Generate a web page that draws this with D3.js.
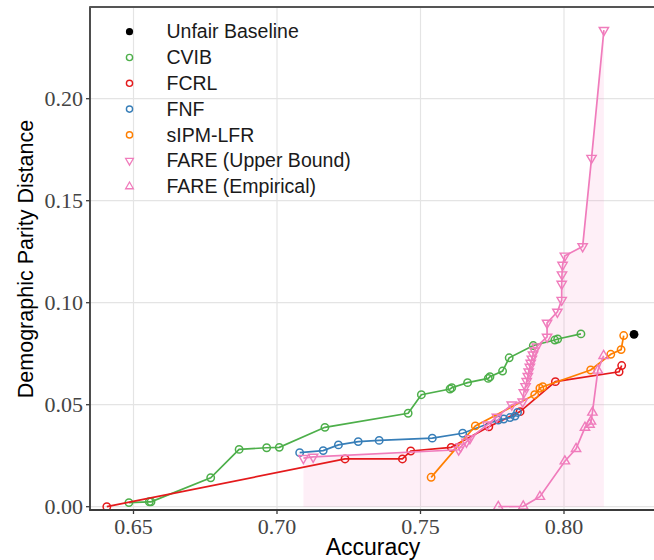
<!DOCTYPE html>
<html>
<head>
<meta charset="utf-8">
<script src="https://cdn.jsdelivr.net/npm/d3@7"></script>
<style>
  html, body { margin: 0; padding: 0; background: #fff; }
  svg { display: block; }
</style>
</head>
<body>
<svg id="chart" width="654" height="560"></svg>
<script>
// ---------------- data ----------------
const xTicks = [0.65, 0.70, 0.75, 0.80];
const yTicks = [0.00, 0.05, 0.10, 0.15, 0.20];
const xTickLabels = ["0.65", "0.70", "0.75", "0.80"];
const yTickLabels = ["0.00", "0.05", "0.10", "0.15", "0.20"];

const legendNames = ["Unfair Baseline", "CVIB", "FCRL", "FNF", "sIPM-LFR", "FARE (Upper Bound)", "FARE (Empirical)"];

const baselineAcc = [0.8244];
const baselineDP  = [0.0845];

const cvibAcc = [0.6484, 0.6555, 0.6561, 0.6769, 0.6868, 0.6964, 0.7008, 0.7167, 0.7457, 0.7503, 0.7603, 0.7609, 0.7664, 0.7736, 0.7742, 0.7786, 0.7809, 0.7893, 0.7968, 0.7978, 0.8059];
const cvibDP  = [0.0020, 0.0024, 0.0024, 0.0142, 0.0281, 0.0289, 0.0291, 0.0389, 0.0458, 0.0549, 0.0577, 0.0583, 0.0608, 0.0629, 0.0637, 0.0665, 0.0730, 0.0790, 0.0817, 0.0822, 0.0847];

const fcrlAcc = [0.6407, 0.7237, 0.7437, 0.7466, 0.7607, 0.7738, 0.7847, 0.7970, 0.8192, 0.8201];
const fcrlDP  = [0.0000, 0.0234, 0.0234, 0.0273, 0.0291, 0.0392, 0.0466, 0.0613, 0.0661, 0.0692];

const fnfAcc = [0.7079, 0.7161, 0.7214, 0.7283, 0.7356, 0.7541, 0.7647, 0.7771, 0.7790, 0.7812, 0.7829, 0.7838];
const fnfDP  = [0.0265, 0.0275, 0.0303, 0.0319, 0.0325, 0.0336, 0.0360, 0.0425, 0.0430, 0.0437, 0.0444, 0.0462];

const sipmAcc = [0.7537, 0.7691, 0.7898, 0.7916, 0.7926, 0.8093, 0.8163, 0.8199, 0.8208];
const sipmDP  = [0.0144, 0.0396, 0.0549, 0.0581, 0.0588, 0.0670, 0.0747, 0.0770, 0.0839];

const fareUBAcc = [0.7092, 0.7126, 0.7633, 0.7640, 0.7660, 0.7672, 0.7733, 0.7766, 0.7818, 0.7856, 0.7860, 0.7866, 0.7870, 0.7874, 0.7877, 0.7881, 0.7884, 0.7888, 0.7892, 0.7897, 0.7905, 0.7941, 0.7941, 0.7977, 0.7992, 0.7992, 0.7993, 0.7995, 0.8003, 0.8065, 0.8096, 0.8139];
const fareUBDP  = [0.0238, 0.0244, 0.0279, 0.0294, 0.0318, 0.0335, 0.0402, 0.0440, 0.0500, 0.0515, 0.0560, 0.0590, 0.0615, 0.0640, 0.0662, 0.0685, 0.0705, 0.0725, 0.0745, 0.0765, 0.0785, 0.0832, 0.0901, 0.0955, 0.1013, 0.1092, 0.1138, 0.1185, 0.1230, 0.1276, 0.1709, 0.2336];

const fareEmpAcc = [0.7771, 0.7858, 0.7916, 0.8003, 0.8042, 0.8073, 0.8089, 0.8094, 0.8099, 0.8118, 0.8138];
const fareEmpDP  = [0.0000, 0.0002, 0.0049, 0.0223, 0.0284, 0.0388, 0.0403, 0.0418, 0.0462, 0.0668, 0.0740];

// ---------------- styling ----------------
const colCVIB = "#4DAF4A", colFCRL = "#E41A1C", colFNF = "#377EB8", colSIPM = "#FF7F00", colFARE = "#F07CBC";

const svg = d3.select("#chart");
const W = 654, H = 560;
const pLeft = 90, pTop = 7, pBottom = 510, pRight = 700;

const x = d3.scaleLinear().domain([0.65, 0.80]).range([133.5, 564]);
const y = d3.scaleLinear().domain([0.0, 0.20]).range([506.7, 98.7]);

const zip = (a, b) => a.map((v, i) => [v, b[i]]);

// clip
svg.append("defs").append("clipPath").attr("id", "clip")
  .append("rect").attr("x", pLeft).attr("y", pTop).attr("width", pRight - pLeft).attr("height", pBottom - pTop);

// grid
const grid = svg.append("g");
grid.selectAll("line.vx").data(xTicks).join("line")
  .attr("x1", d => x(d)).attr("x2", d => x(d)).attr("y1", pTop).attr("y2", pBottom)
  .attr("stroke", "#E4E4E4").attr("stroke-width", 1.2);
grid.selectAll("line.hy").data(yTicks).join("line")
  .attr("y1", d => y(d)).attr("y2", d => y(d)).attr("x1", pLeft).attr("x2", pRight)
  .attr("stroke", "#E4E4E4").attr("stroke-width", 1.2);

const plot = svg.append("g").attr("clip-path", "url(#clip)");

// ribbon under FARE upper bound
const ubPts = zip(fareUBAcc, fareUBDP);
plot.append("path").datum(ubPts)
  .attr("d", d3.area().x(d => x(d[0])).y0(y(0)).y1(d => y(d[1])))
  .attr("fill", "#F781BF").attr("fill-opacity", 0.13);

const line = d3.line().x(d => x(d[0])).y(d => y(d[1]));

function circleSeries(accs, dps, color) {
  const pts = zip(accs, dps);
  plot.append("path").datum(pts).attr("d", line)
    .attr("fill", "none").attr("stroke", color).attr("stroke-width", 1.7);
  plot.append("g").selectAll("circle").data(pts).join("circle")
    .attr("cx", d => x(d[0])).attr("cy", d => y(d[1])).attr("r", 3.7)
    .attr("fill", "none").attr("stroke", color).attr("stroke-width", 1.5);
}
function triSeries(accs, dps, color, down) {
  const pts = zip(accs, dps);
  plot.append("path").datum(pts).attr("d", line)
    .attr("fill", "none").attr("stroke", color).attr("stroke-width", 1.7);
  const sym = d3.symbol().type(d3.symbolTriangle).size(38);
  plot.append("g").selectAll("path").data(pts).join("path")
    .attr("d", sym)
    .attr("transform", d => `translate(${x(d[0])},${y(d[1])})` + (down ? " rotate(180)" : ""))
    .attr("fill", "none").attr("stroke", color).attr("stroke-width", 1.4);
}

circleSeries(cvibAcc, cvibDP, colCVIB);
circleSeries(fcrlAcc, fcrlDP, colFCRL);
circleSeries(fnfAcc, fnfDP, colFNF);
circleSeries(sipmAcc, sipmDP, colSIPM);
triSeries(fareUBAcc, fareUBDP, colFARE, true);
triSeries(fareEmpAcc, fareEmpDP, colFARE, false);

plot.append("g").selectAll("circle").data(zip(baselineAcc, baselineDP)).join("circle")
  .attr("cx", d => x(d[0])).attr("cy", d => y(d[1])).attr("r", 4.4).attr("fill", "#000");

// axes frame
const axCol = "#3a3a3a";
svg.append("line").attr("x1", pLeft).attr("x2", pLeft).attr("y1", pTop).attr("y2", pBottom + 0.8)
  .attr("stroke", axCol).attr("stroke-width", 1.8);
svg.append("line").attr("x1", pLeft - 0.8).attr("x2", W).attr("y1", pBottom).attr("y2", pBottom)
  .attr("stroke", axCol).attr("stroke-width", 1.8);
svg.append("line").attr("x1", pLeft - 0.8).attr("x2", W).attr("y1", pTop).attr("y2", pTop)
  .attr("stroke", "#555").attr("stroke-width", 1.8);

// ticks & tick labels
const tickFont = "'Liberation Serif', 'Times New Roman', serif";
svg.append("g").selectAll("line").data(xTicks).join("line")
  .attr("x1", d => x(d)).attr("x2", d => x(d)).attr("y1", pBottom).attr("y2", pBottom + 4)
  .attr("stroke", axCol).attr("stroke-width", 1.3);
svg.append("g").selectAll("text").data(xTicks).join("text")
  .attr("x", d => x(d)).attr("y", 533.5).attr("text-anchor", "middle")
  .attr("font-family", tickFont).attr("font-size", 22).attr("fill", "#444")
  .text((d, i) => xTickLabels[i]);
svg.append("g").selectAll("line").data(yTicks).join("line")
  .attr("y1", d => y(d)).attr("y2", d => y(d)).attr("x1", pLeft - 4).attr("x2", pLeft)
  .attr("stroke", axCol).attr("stroke-width", 1.3);
svg.append("g").selectAll("text").data(yTicks).join("text")
  .attr("x", 83).attr("y", d => y(d) + 7).attr("text-anchor", "end")
  .attr("font-family", tickFont).attr("font-size", 22).attr("fill", "#444")
  .text((d, i) => yTickLabels[i]);

// axis titles
const sans = "'Liberation Sans', Arial, Helvetica, sans-serif";
svg.append("text").attr("x", 373).attr("y", 554.5).attr("text-anchor", "middle")
  .attr("font-family", sans).attr("font-size", 23).attr("fill", "#000").text("Accuracy");
svg.append("text").attr("transform", "translate(33,259) rotate(-90)").attr("text-anchor", "middle")
  .attr("font-family", sans).attr("font-size", 21.5).attr("fill", "#000").text("Demographic Parity Distance");

// legend
const legColors = ["#000", colCVIB, colFCRL, colFNF, colSIPM, colFARE, colFARE];
const legKinds = ["dot", "circ", "circ", "circ", "circ", "down", "up"];
const leg = svg.append("g");
legendNames.forEach((name, i) => {
  const cy = 31.7 + i * 25.8;
  const cx = 129.5;
  const k = legKinds[i];
  if (k === "dot") {
    leg.append("circle").attr("cx", cx).attr("cy", cy).attr("r", 3.6).attr("fill", "#000");
  } else if (k === "circ") {
    leg.append("circle").attr("cx", cx).attr("cy", cy).attr("r", 3.1)
      .attr("fill", "none").attr("stroke", legColors[i]).attr("stroke-width", 1.4);
  } else {
    leg.append("path").attr("d", d3.symbol().type(d3.symbolTriangle).size(26))
      .attr("transform", `translate(${cx},${cy})` + (k === "down" ? " rotate(180)" : ""))
      .attr("fill", "none").attr("stroke", legColors[i]).attr("stroke-width", 1.3);
  }
  leg.append("text").attr("x", 166.5).attr("y", cy + 6.6)
    .attr("font-family", sans).attr("font-size", 19.5).attr("fill", "#1a1a1a").text(name);
});
</script>
</body>
</html>
